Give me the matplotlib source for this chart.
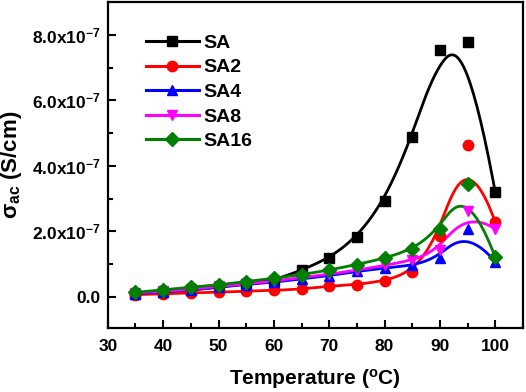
import numpy as np
import matplotlib
matplotlib.use('Agg')
import matplotlib.pyplot as plt
from matplotlib.ticker import MultipleLocator, FixedLocator, FixedFormatter

plt.rcParams['font.family'] = ['Liberation Sans', 'DejaVu Sans']
plt.rcParams['font.weight'] = 'bold'
plt.rcParams['mathtext.fontset'] = 'custom'
plt.rcParams['mathtext.rm'] = 'Liberation Sans'
plt.rcParams['mathtext.bf'] = 'Liberation Sans:bold'
plt.rcParams['mathtext.it'] = 'Liberation Sans:bold'
plt.rcParams['mathtext.default'] = 'bf'

# temperatura (°C)
temp = [35, 40, 45, 50, 55, 60, 65, 70, 75, 80, 85, 90, 95, 100]

# conductividad ac (S/cm), en unidades de 1e-7
sa = [0.10, 0.15, 0.20, 0.30, 0.40, 0.50, 0.82, 1.18, 1.82, 2.94, 4.89, 7.52, 7.78, 3.21]
sa2 = [0.07, 0.10, 0.12, 0.14, 0.18, 0.20, 0.24, 0.33, 0.38, 0.49, 0.76, 1.86, 4.63, 2.29]
sa4 = [0.10, 0.15, 0.22, 0.30, 0.38, 0.45, 0.55, 0.65, 0.78, 0.88, 0.96, 1.20, 2.06, 1.08]
sa8 = [0.12, 0.17, 0.24, 0.32, 0.40, 0.48, 0.60, 0.69, 0.82, 0.96, 1.12, 1.43, 2.61, 2.08]
sa16 = [0.14, 0.22, 0.30, 0.37, 0.47, 0.57, 0.68, 0.82, 0.99, 1.18, 1.45, 2.06, 3.44, 1.22]

labels = ['SA', 'SA2', 'SA4', 'SA8', 'SA16']
colors = ['black', 'red', 'blue', 'magenta', 'green']
markers = ['s', 'o', '^', 'v', 'D']
msizes = [7, 7.5, 7.5, 7.5, 7]

yticks = [0, 2, 4, 6, 8]
ytick_labels = ['0.0', '2.0x10$^{-7}$', '4.0x10$^{-7}$', '6.0x10$^{-7}$', '8.0x10$^{-7}$']


def bspline(px, py, n=400):
    # B-spline cubica con extremos fijos, los puntos son puntos de control
    px = np.asarray(px, float)
    py = np.asarray(py, float)
    m = len(px)
    k = 3
    nint = m - k
    knots = np.concatenate([np.zeros(k), np.arange(nint + 1), np.full(k, nint)]).astype(float)
    t = np.linspace(0, nint, n)
    t[-1] -= 1e-9
    B = np.zeros((n, len(knots) - 1))
    for i in range(len(knots) - 1):
        B[:, i] = (t >= knots[i]) & (t < knots[i + 1])
    for d in range(1, k + 1):
        Bn = np.zeros((n, len(knots) - 1 - d))
        for i in range(len(knots) - 1 - d):
            a = 0.0
            den1 = knots[i + d] - knots[i]
            den2 = knots[i + d + 1] - knots[i + 1]
            if den1 > 0:
                a = (t - knots[i]) / den1 * B[:, i]
            b = 0.0
            if den2 > 0:
                b = (knots[i + d + 1] - t) / den2 * B[:, i + 1]
            Bn[:, i] = a + b
        B = Bn
    return B @ px, B @ py


fig = plt.figure(figsize=(5.26, 3.92), dpi=100)
ax = fig.add_axes([0.205, 0.163, 0.789, 0.832])

for y, lab, c, mk, ms in zip([sa, sa2, sa4, sa8, sa16], labels, colors, markers, msizes):
    yy = np.array(y) * 1e-7
    cx, cy = bspline(temp, yy)
    ax.plot(cx, cy, color=c, lw=2.0, zorder=2)
    ax.plot(temp, yy, linestyle='none', marker=mk, color=c, ms=ms, zorder=3)
    # entrada de leyenda
    ax.plot([], [], color=c, lw=2.2, marker=mk, ms=ms, label=lab)

ax.set_xlim(30, 105)
ax.set_ylim(-0.95e-7, 9.0e-7)
ax.xaxis.set_minor_locator(MultipleLocator(5))
ax.yaxis.set_major_locator(FixedLocator([v * 1e-7 for v in yticks]))
ax.yaxis.set_major_formatter(FixedFormatter(ytick_labels))
ax.yaxis.set_minor_locator(MultipleLocator(1e-7))
ax.set_xticks([30, 40, 50, 60, 70, 80, 90, 100])

ax.tick_params(which='both', direction='in', top=False, right=False, width=1.5)
ax.tick_params(which='major', length=6, labelsize=12.5)
ax.tick_params(axis='x', which='major', pad=8)
ax.tick_params(axis='y', which='major', pad=5)
ax.tick_params(which='minor', length=3.5)
for s in ax.spines.values():
    s.set_linewidth(1.6)

ax.set_xlabel('Temperature ($^{\\mathrm{o}}$C)', fontsize=15, fontweight='bold', labelpad=9)
ax.set_ylabel('σ$_{\\mathrm{ac}}$ (S/cm)', fontsize=16, fontweight='bold', labelpad=6)

leg = ax.legend(loc='upper left', bbox_to_anchor=(0.05, 0.955), frameon=False,
                fontsize=14, handlelength=2.7, handletextpad=0.25, labelspacing=0.36)
for t in leg.get_texts():
    t.set_fontweight('bold')

fig.savefig('out.png', dpi=100)
